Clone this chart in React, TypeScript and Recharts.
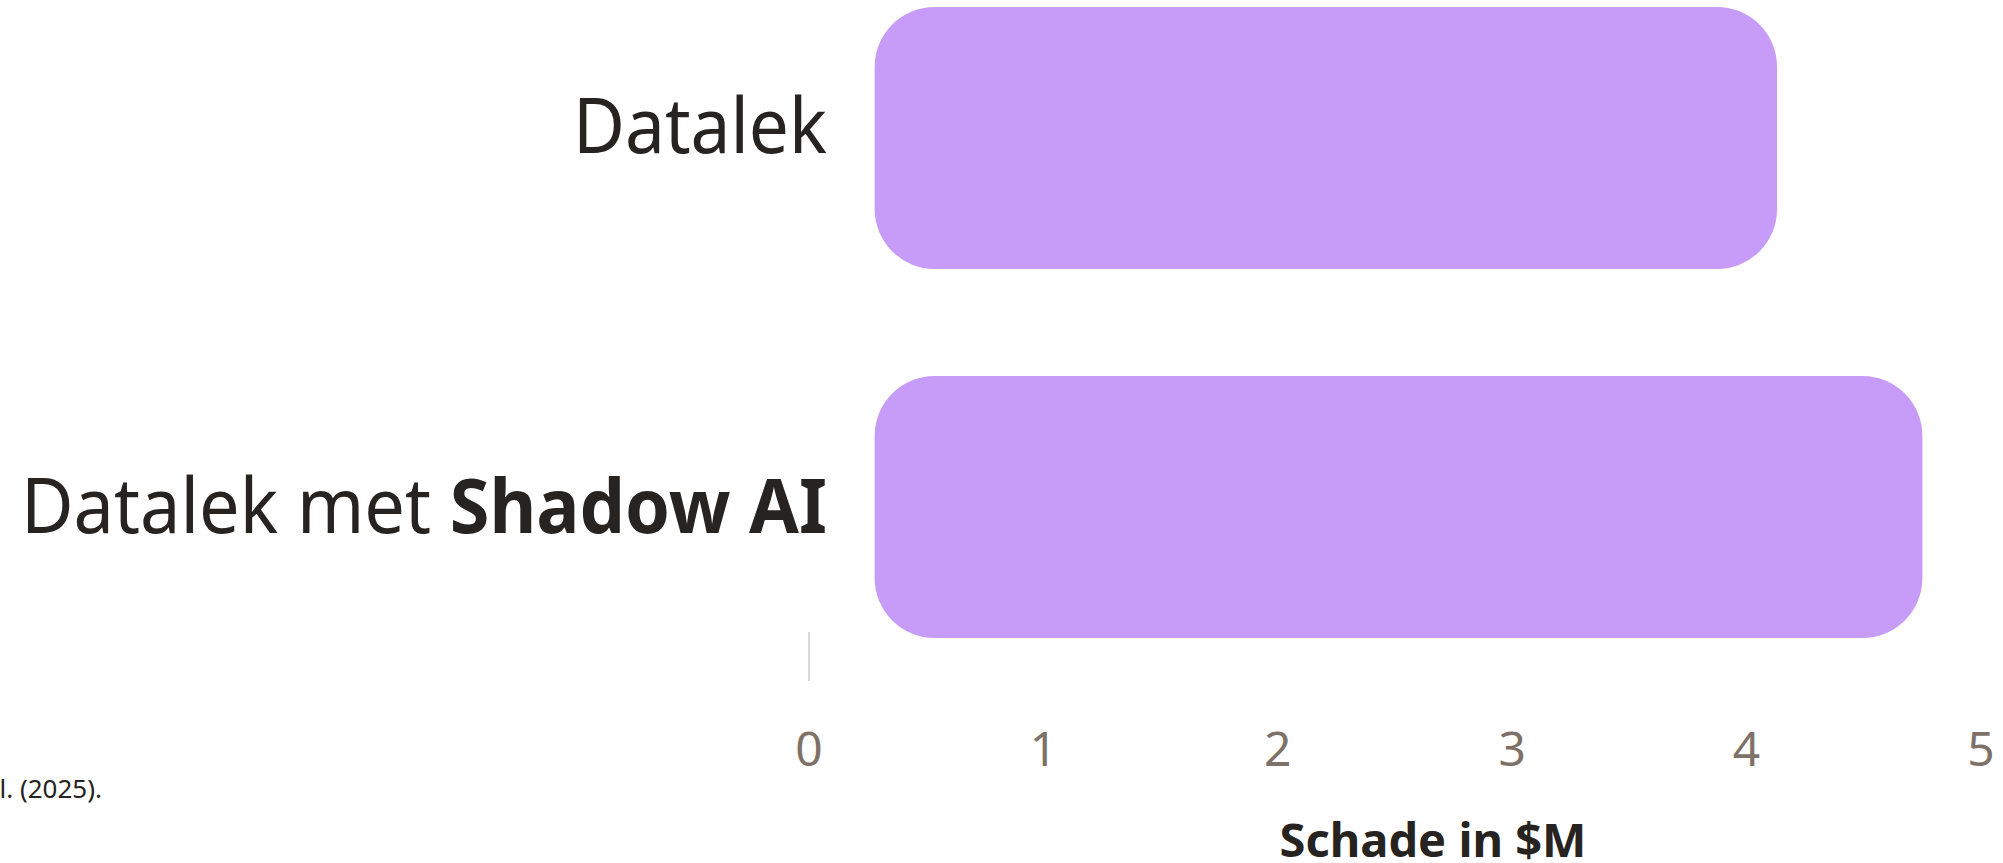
import React from 'react';
import { BarChart, Bar, XAxis, YAxis } from 'recharts';

// categories, top to bottom
const categories = ['Datalek', 'Datalek met Shadow AI'];
// bars are drawn as floating ranges [start, end] in $M
const barStart = [0.28, 0.28];
const barEnd = [4.13, 4.75];
const xTicks = [0, 1, 2, 3, 4, 5];
const axisTitle = 'Schade in $M';
const footnote = 'l. (2025).';

const chartData = categories.map((name, i) => ({
    name,
    range: [barStart[i], barEnd[i]],
}));

const FONT = '"Noto Sans", "Open Sans", sans-serif';

// the slide's labels are a narrow font (Calibri-like); squeeze Noto Sans to the same width
const labelWidths = [254, 806];
const labelBaseline = [15, 26];

const CategoryTick = ({ x, y, payload, index }: any) => {
    const label: string = payload.value;
    const boldIdx = label.indexOf('Shadow AI');
    return (
        <text
            x={x + 18}
            y={y + labelBaseline[index]}
            textAnchor="end"
            fontFamily={FONT}
            fontSize={76}
            fill="#262320"
            textLength={labelWidths[index]}
            lengthAdjust="spacingAndGlyphs"
        >
            {boldIdx >= 0 ? (
                <>
                    <tspan>{label.slice(0, boldIdx)}</tspan>
                    <tspan fontWeight="bold">{label.slice(boldIdx)}</tspan>
                </>
            ) : label}
        </text>
    );
};

const ValueTick = ({ x, payload }: any) => (
    <g>
        {payload.value === 0 && <line x1={x} x2={x} y1={632} y2={681} stroke="#d9d9d9" strokeWidth={2} />}
        <text x={x} y={766} textAnchor="middle" fontFamily={FONT} fontSize={48} fill="#7d7168">
            {payload.value}
        </text>
    </g>
);

const App: React.FC = () => {
    return (
        <div style={{ position: 'absolute', left: 0, top: 0, width: 2003, height: 863, background: '#fff', overflow: 'hidden' }}>
            <BarChart
                width={2003}
                height={863}
                data={chartData}
                layout="vertical"
                margin={{ top: -47, right: 22, left: 0, bottom: 52 }}
            >
                <XAxis
                    type="number"
                    domain={[0, 5]}
                    ticks={xTicks}
                    axisLine={false}
                    tickLine={false}
                    height={120}
                    tick={<ValueTick />}
                    interval={0}
                />
                <YAxis
                    type="category"
                    dataKey="name"
                    width={809}
                    axisLine={false}
                    tickLine={false}
                    tickSize={0}
                    tickMargin={0}
                    tick={<CategoryTick />}
                />
                <Bar dataKey="range" fill="#c79cf8" barSize={262} radius={60} isAnimationActive={false} />
            </BarChart>
            <svg width={2003} height={863} style={{ position: 'absolute', left: 0, top: 0, pointerEvents: 'none' }}>
                <text x={1433} y={857} textAnchor="middle" fontFamily={FONT} fontWeight="bold" fontSize={47} fill="#262320">
                    {axisTitle}
                </text>
                <text x={102} y={798} textAnchor="end" fontFamily={FONT} fontSize={26} fill="#262320">
                    {footnote}
                </text>
            </svg>
        </div>
    );
};

export default App;
